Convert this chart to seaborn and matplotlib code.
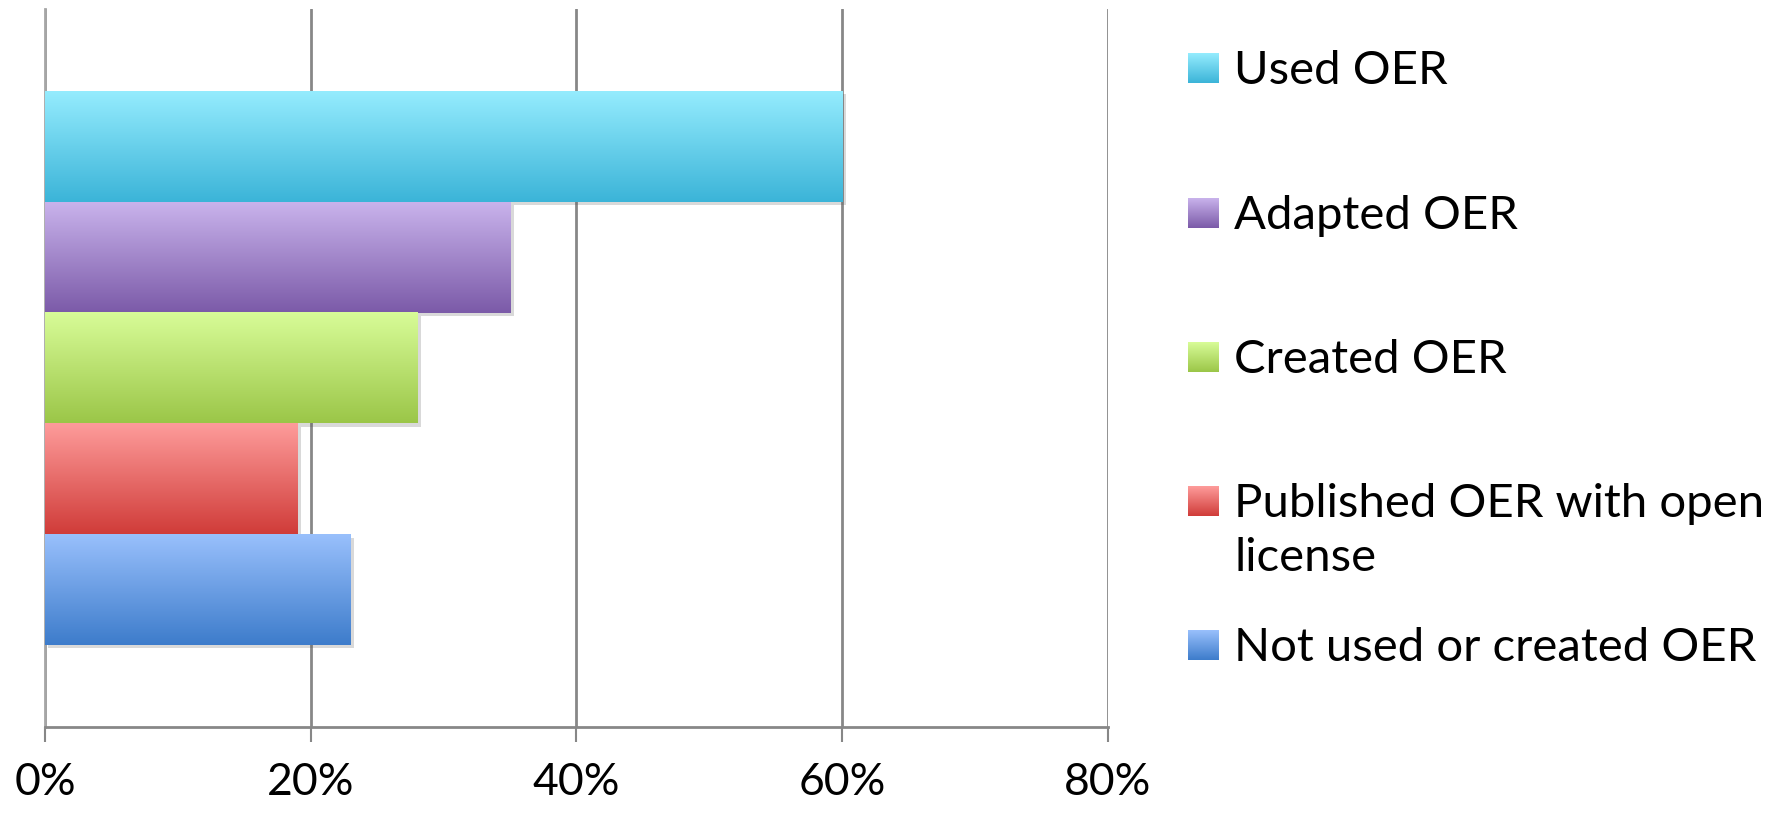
import numpy as np
import pandas as pd
import matplotlib
matplotlib.use("Agg")
import matplotlib.pyplot as plt
import matplotlib.patheffects as pe
from matplotlib.colors import to_rgb
from matplotlib.ticker import FuncFormatter
import seaborn as sns

# data
categories = ["Used OER", "Adapted OER", "Created OER",
              "Published OER with open\nlicense", "Not used or created OER"]
shares = [60, 35, 28, 19, 23]
x_ticks = [0, 20, 40, 60, 80]

# gradient colours (top, bottom) for each series
tops = ["#95ecfe", "#c9b3ec", "#d8fc98", "#fe9c9b", "#99c0fc"]
bottoms = ["#3bb4d8", "#7b5aa8", "#9bc648", "#d03c39", "#3d7ccb"]

sns.set_style("white")
plt.rcParams["font.family"] = ["Lato", "DejaVu Sans"]

W, H = 1787, 815
fig = plt.figure(figsize=(W / 100, H / 100), dpi=100)
ax = fig.add_axes([45 / W, 88 / H, (1108 - 45) / W, (727 - 9) / H])

df = pd.DataFrame({"category": categories, "share": shares})
sns.barplot(data=df, x="share", y="category", hue="category", orient="h",
            palette=bottoms, width=1.0, legend=False, linewidth=0, ax=ax, zorder=2)


def gradient(top, bot):
    t = np.linspace(0, 1, 256)[:, None, None]
    c1, c2 = np.array(to_rgb(top)), np.array(to_rgb(bot))
    img = c1[None, None, :] * (1 - t) + c2[None, None, :] * t
    return np.repeat(img, 2, axis=1)


for patch, top, bot in zip(ax.patches, tops, bottoms):
    patch.set_edgecolor("none")
    patch.set_path_effects([pe.SimplePatchShadow(offset=(2.5, -2.5), alpha=0.22,
                                                 shadow_rgbFace="#555555"),
                            pe.Normal()])
    x0, y0 = patch.get_x(), patch.get_y()
    w, h = patch.get_width(), patch.get_height()
    ax.imshow(gradient(top, bot), extent=(x0, x0 + w, y0 + h, y0), aspect="auto",
              zorder=3, interpolation="bilinear")

ax.set_xlim(0, 80)
ax.set_ylim(4.5 + 0.74, -0.5 - 0.74)
ax.set_xticks(x_ticks)
ax.xaxis.set_major_formatter(FuncFormatter(lambda v, p: f"{v:.0f}%"))
ax.set_yticks([])
ax.set_xlabel("")
ax.set_ylabel("")
ax.grid(axis="x", color="#878787", linewidth=2)
ax.set_axisbelow(True)
for side in ["top", "right"]:
    ax.spines[side].set_visible(False)
ax.spines["bottom"].set_color("#878787")
ax.spines["bottom"].set_linewidth(2)
ax.spines["left"].set_color("#a6a6a6")
ax.spines["left"].set_linewidth(2)
ax.tick_params(axis="x", direction="out", length=11, width=1.5, color="#878787",
               labelsize=32, pad=14, labelcolor="black", bottom=True)

# legend drawn in figure pixel space
lax = fig.add_axes([0, 0, 1, 1], zorder=5)
legend_y = [68, 213, 357, 501, 645]
for label, top, bot, yc in zip(categories, tops, bottoms, legend_y):
    lax.imshow(gradient(top, bot), extent=(1188, 1219, yc + 15, yc - 15), aspect="auto")
    lax.text(1234, yc - 18, label, fontsize=34, va="top", ha="left",
             linespacing=1.34, color="black")
lax.set_xlim(0, W)
lax.set_ylim(H, 0)
lax.axis("off")

fig.savefig("out.png", dpi=100, facecolor="white")
